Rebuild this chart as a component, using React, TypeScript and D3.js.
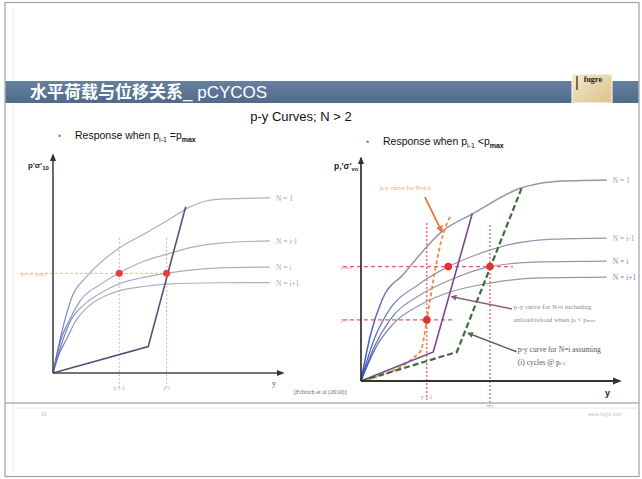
import React from "react";
import * as d3 from "d3";

type P = [number, number];

// ---------- left chart data (response when p_{i-1} = p_max) ----------
const leftN1: P[] = [[0,0],[3,15],[6,27.5],[8.3,35],[14,43.5],[20.5,50.5],[29,57.5],[40,64],[49.6,69.8],[58.3,75.5],[66,78.8],[72.6,79.8],[94.3,80.3]];
const leftNim1: P[] = [[0,0],[2.2,10.6],[4.3,17.9],[6.1,22],[11.7,33],[20.4,40.5],[29,46],[40,51.5],[49.6,54.5],[59.6,57.5],[72.6,59.6],[94.3,60.6]];
const leftNi: P[] = [[0,0],[2.2,8.3],[4.3,15.1],[7.4,23.4],[14.8,32.5],[20.4,36.5],[29,41],[40,44],[49.4,45.7],[72.6,48.2],[94.3,48.6]];
const leftNip1: P[] = [[0,0],[3,9.6],[5.7,15.1],[9.6,23.4],[16.1,31.2],[22.6,35.3],[29,37.8],[40,39.8],[49.6,40.8],[72.6,41.4],[94.3,41.5]];
const leftPurple: P[] = [[0,0],[41.4,12.1],[57.7,76.3]];
const leftYValues = [28.8, 49.4];
const leftYLabels = ["y i-1", "y i"];
const leftPmax = 45.7;
const leftCurveLabels = ["N = 1", "N = i-1", "N = i", "N = i+1"];

// ---------- right chart data (response when p_{i-1} < p_max) ----------
const rightN1: P[] = [[0,0],[3.5,19.9],[8.1,36.3],[16.5,48],[31.2,67],[43.4,75.2],[61.4,86.4],[74.2,89.4],[94.9,90.1]];
const rightNim1: P[] = [[0,0],[4.9,18.2],[10,30.2],[22.8,43.7],[33.7,51.3],[42.1,55.5],[54.9,60.5],[74.3,63.6],[94.9,64.1]];
const rightNi: P[] = [[0,0],[5.4,16],[11.2,27.4],[22.8,38.6],[34.4,45.3],[49.8,51.3],[69.1,53.4],[94.9,53.8]];
const rightNip1: P[] = [[0,0],[6.2,16],[12,25.1],[22.8,34.1],[34.4,39.9],[49.8,43.9],[69.1,46.2],[94.9,46.6]];
const rightOrange: P[] = [[0,0],[22.8,13],[24.4,20],[25.4,27.4],[31.8,66.2],[34.4,73.7]];
const rightPurple: P[] = [[0,0],[27.9,13],[43,75.2]];
const rightGreen: P[] = [[0,0],[37,13],[62,86.4]];
const rightYValues = [25.4, 49.8];
const rightPValues = [51.3, 27.4];
const rightDots: P[] = [[25.4,27.4],[33.7,51.3],[49.8,51.3]];
const rightCurveLabels = ["N = 1", "N = i-1", "N = i", "N = i+1"];

const W = 642, H = 479;

export default function App() {
  const xL = d3.scaleLinear().domain([0, 100]).range([53, 283]);
  const yL = d3.scaleLinear().domain([0, 100]).range([373, 155]);
  const xR = d3.scaleLinear().domain([0, 100]).range([361, 620]);
  const yR = d3.scaleLinear().domain([0, 100]).range([381, 158]);

  const smoothL = d3.line<P>().x(d => xL(d[0])).y(d => yL(d[1])).curve(d3.curveMonotoneX);
  const polyL = d3.line<P>().x(d => xL(d[0])).y(d => yL(d[1]));
  const smoothR = d3.line<P>().x(d => xR(d[0])).y(d => yR(d[1])).curve(d3.curveMonotoneX);
  const polyR = d3.line<P>().x(d => xR(d[0])).y(d => yR(d[1]));

  const leftCurves = [leftN1, leftNim1, leftNi, leftNip1];
  const rightCurves = [rightN1, rightNim1, rightNi, rightNip1];
  const serif = "'Liberation Serif', 'DejaVu Serif', serif";
  const sans = "'Liberation Sans', Arial, sans-serif";

  return (
    <svg width={W} height={H} style={{ position: "absolute", left: 0, top: 0, background: "#fff" }}>
      <defs>
        <linearGradient id="bar" x1="0" y1="0" x2="0" y2="1">
          <stop offset="0" stopColor="#6681a0" />
          <stop offset="1" stopColor="#506b8a" />
        </linearGradient>
        <linearGradient id="logo" x1="0" y1="0" x2="1" y2="1">
          <stop offset="0" stopColor="#f4e8c8" />
          <stop offset="1" stopColor="#dcc28c" />
        </linearGradient>
        <linearGradient id="gL" gradientUnits="userSpaceOnUse" x1={xL(0)} y1="0" x2={xL(14)} y2="0">
          <stop offset="0" stopColor="#5a6cc4" />
          <stop offset="1" stopColor="#aaaec8" />
        </linearGradient>
        <linearGradient id="gR" gradientUnits="userSpaceOnUse" x1={xR(0)} y1="0" x2={xR(18)} y2="0">
          <stop offset="0" stopColor="#3d50c0" />
          <stop offset="1" stopColor="#9296b0" />
        </linearGradient>
        <marker id="arrK" viewBox="0 0 10 10" refX="8" refY="5" markerWidth="5" markerHeight="5" orient="auto">
          <path d="M0,1 L10,5 L0,9 z" fill="#333" />
        </marker>
        <marker id="arrO" viewBox="0 0 10 10" refX="8" refY="5" markerWidth="4" markerHeight="4" orient="auto">
          <path d="M0,0 L10,5 L0,10 z" fill="#e8793a" />
        </marker>
        <marker id="arrM" viewBox="0 0 10 10" refX="8" refY="5" markerWidth="4" markerHeight="4" orient="auto">
          <path d="M0,0 L10,5 L0,10 z" fill="#8a6070" />
        </marker>
        <marker id="arrG" viewBox="0 0 10 10" refX="8" refY="5" markerWidth="4" markerHeight="4" orient="auto">
          <path d="M0,0 L10,5 L0,10 z" fill="#4d6a4d" />
        </marker>
      </defs>

      {/* slide frame */}
      <rect x={5} y={2.5} width={634} height={474} fill="none" stroke="#a0a0a0" strokeWidth={1.2} />
      <line x1={13} x2={13} y1={8} y2={472} stroke="#ececec" strokeWidth={1} />

      {/* title bar */}
      <rect x={5.5} y={81} width={633} height={22} fill="url(#bar)" />
      <text x={30} y={98} fill="#fff" fontSize={17} fontFamily="'Noto Sans CJK SC', sans-serif" fontWeight={700}>
        水平荷载与位移关系
        <tspan fontFamily={sans} fontWeight={400}>_ pCYCOS</tspan>
      </text>
      <rect x={572} y={74} width={40} height={29} fill="url(#logo)" stroke="#fff" strokeWidth={1} />
      <text x={593} y={82} textAnchor="middle" fontSize={8} fontWeight={700} fontFamily={serif} fill="#222">fugro</text>
      <line x1={577} x2={577} y1={76} y2={90} stroke="#222" strokeWidth={1.2} />

      {/* headings */}
      <text x={301} y={121} textAnchor="middle" fontSize={13} fontFamily={sans} fill="#111">p-y Curves; N &gt; 2</text>
      <text x={58} y={139} fontSize={9} fill="#888" fontFamily={sans}>•</text>
      <text x={75} y={139} fontSize={10.5} fontFamily={sans} fill="#111">
        Response when p<tspan fontSize={7} dy={2.5}>i-1</tspan><tspan dy={-2.5}> =p</tspan><tspan fontSize={7} dy={2.5} fontWeight={700}>max</tspan>
      </text>
      <text x={366} y={145} fontSize={9} fill="#888" fontFamily={sans}>•</text>
      <text x={383} y={145} fontSize={10.5} fontFamily={sans} fill="#111">
        Response when p<tspan fontSize={7} dy={2.5}>i-1</tspan><tspan dy={-2.5}> &lt;p</tspan><tspan fontSize={7} dy={2.5} fontWeight={700}>max</tspan>
      </text>

      {/* ================= LEFT CHART ================= */}
      <g>
        <line x1={20} x2={xL(leftYValues[1])} y1={yL(leftPmax)} y2={yL(leftPmax)} stroke="#f3b98a" strokeWidth={1} strokeDasharray="3,2" />
        {leftYValues.map((v, i) => (
          <line key={i} x1={xL(v)} x2={xL(v)} y1={yL(62)} y2={yL(-6.9)} stroke="#f0a0a0" strokeWidth={1} strokeDasharray="2,2" />
        ))}
        {leftCurves.map((c, i) => (
          <path key={i} d={smoothL(c) || ""} fill="none" stroke="url(#gL)" strokeWidth={1.2} />
        ))}
        <path d={polyL(leftPurple) || ""} fill="none" stroke="#5e4c78" strokeWidth={1.6} />
        {leftYValues.map((v, i) => (
          <circle key={i} cx={xL(v)} cy={yL(leftPmax)} r={3.5} fill="#ee3a3a" />
        ))}
        <line x1={xL(0)} x2={xL(0)} y1={yL(0)} y2={yL(100)} stroke="#444" strokeWidth={1.6} markerEnd="url(#arrK)" />
        <line x1={xL(0)} x2={xL(100)} y1={yL(0)} y2={yL(0)} stroke="#444" strokeWidth={1.6} markerEnd="url(#arrK)" />
        <text x={28} y={168} fontSize={8} fontWeight={700} fontFamily={sans} fill="#222">p'σ'<tspan fontSize={6} dy={1.5}>10</tspan></text>
        <text x={272} y={386} fontSize={8} fontFamily={serif} fill="#555">y</text>
        {leftCurves.map((c, i) => (
          <text key={i} x={xL(c[c.length - 1][0]) + 6} y={yL(c[c.length - 1][1]) + 3} fontSize={7.5} fontFamily={serif} fill="#a8a8b0">{leftCurveLabels[i]}</text>
        ))}
        {leftYValues.map((v, i) => (
          <text key={i} x={xL(v)} y={yL(-8)} textAnchor="middle" fontSize={6.5} fontFamily={serif} fill="#e6a0a0">{leftYLabels[i]}</text>
        ))}
        <text x={21} y={yL(leftPmax) + 2.5} fontSize={6} fontFamily={serif} fill="#f0b48a">p<tspan fontSize={4.5}>i-1</tspan> = p<tspan fontSize={4.5}>max</tspan></text>
        <text x={294} y={394} fontSize={6.2} fontFamily={serif} fill="#666">[Erbrich et al (2010)]</text>
      </g>

      {/* ================= RIGHT CHART ================= */}
      <g>
        {rightPValues.map((v, i) => (
          <line key={i} x1={343} x2={i === 0 ? 513 : 453} y1={yR(v)} y2={yR(v)} stroke="#e85a5a" strokeWidth={1.1} strokeDasharray="4,3" />
        ))}
        {rightYValues.map((v, i) => (
          <line key={i} x1={xR(v)} x2={xR(v)} y1={yR(i === 0 ? 70.9 : 70)} y2={yR(i === 0 ? -8.5 : -11.2)} stroke="#e85050" strokeWidth={1.2} strokeDasharray="2,2" />
        ))}
        {rightCurves.map((c, i) => (
          <path key={i} d={smoothR(c) || ""} fill="none" stroke="url(#gR)" strokeWidth={i === 0 ? 1.5 : 1.2} />
        ))}
        <path d={smoothR(rightOrange) || ""} fill="none" stroke="#f08a3c" strokeWidth={1.8} strokeDasharray="4,2.5" />
        <path d={polyR(rightPurple) || ""} fill="none" stroke="#7a4892" strokeWidth={1.6} />
        <path d={polyR(rightGreen) || ""} fill="none" stroke="#3f6b3f" strokeWidth={2.2} strokeDasharray="6,3" />
        {rightDots.map((d, i) => (
          <circle key={i} cx={xR(d[0])} cy={yR(d[1])} r={3.8} fill="#e63030" />
        ))}
        <line x1={xR(0)} x2={xR(0)} y1={yR(0)} y2={yR(100)} stroke="#222" strokeWidth={1.6} markerEnd="url(#arrK)" />
        <line x1={xR(0)} x2={xR(100)} y1={yR(0)} y2={yR(0)} stroke="#333" strokeWidth={1.8} markerEnd="url(#arrK)" />
        <text x={334} y={169} fontSize={8.5} fontWeight={700} fontFamily={sans} fill="#222">p,'σ'<tspan fontSize={6} dy={2}>vo</tspan></text>
        <text x={605} y={396} fontSize={9} fontWeight={700} fontFamily={sans} fill="#222">y</text>
        {rightCurves.map((c, i) => (
          <text key={i} x={xR(c[c.length - 1][0]) + 6} y={yR(c[c.length - 1][1]) + 3} fontSize={7.5} fontFamily={serif} fill={i >= 2 ? "#7484cc" : "#a0a0a8"}>{rightCurveLabels[i]}</text>
        ))}
        <text x={xR(rightYValues[0])} y={yR(-8)} textAnchor="middle" fontSize={6.5} fontFamily={serif} fill="#e89090">y i-1</text>
        <text x={xR(rightYValues[1])} y={yR(-12)} textAnchor="middle" fontSize={6.5} fontFamily={serif} fill="#e89090">y i</text>
        <text x={341} y={yR(rightPValues[0]) + 2.5} fontSize={6.5} fontFamily={serif} fill="#e88a8a">p<tspan fontSize={4.5}>max</tspan></text>
        <text x={341} y={yR(rightPValues[1]) + 2.5} fontSize={6.5} fontFamily={serif} fill="#e88a8a">p<tspan fontSize={4.5}>i-1</tspan></text>

        <text x={xR(7.3)} y={yR(85.5)} fontSize={6.5} fontFamily={serif} fill="#f0a070">p-y curve for N=i-1</text>
        <line x1={xR(24.7)} y1={yR(82.5)} x2={xR(31.2)} y2={yR(67)} stroke="#e8793a" strokeWidth={1.8} markerEnd="url(#arrO)" />

        <line x1={xR(58.3)} y1={yR(32.3)} x2={xR(35)} y2={yR(37.8)} stroke="#8a6070" strokeWidth={1.5} markerEnd="url(#arrM)" />
        <text x={xR(59)} y={yR(32.5)} fontSize={7} fontFamily={serif} fill="#888">p-y curve for N=i including</text>
        <text x={xR(59)} y={yR(26.5)} fontSize={7} fontFamily={serif} fill="#888">unload/reload when p<tspan fontSize={5}>i</tspan> &lt; p<tspan fontSize={5}>max</tspan></text>

        <line x1={xR(60.1)} y1={yR(13.1)} x2={xR(41.4)} y2={yR(21.4)} stroke="#4d6a4d" strokeWidth={1.5} markerEnd="url(#arrG)" />
        <text x={xR(60.5)} y={yR(13)} fontSize={7.5} fontFamily={serif} fill="#555">p-y curve for N=i assuming</text>
        <text x={xR(60.5)} y={yR(7.2)} fontSize={7.5} fontFamily={serif} fill="#555">(i) cycles @ p<tspan fontSize={5}>i-1</tspan></text>
      </g>

      {/* footer */}
      <line x1={5} x2={639} y1={403} y2={403} stroke="#b0b0b0" strokeWidth={1.5} />
      <line x1={13} x2={639} y1={408} y2={408} stroke="#e6e6e6" strokeWidth={1} />
      <text x={41} y={416} fontSize={5} fill="#bbb" fontFamily={sans}>16</text>
      <text x={588} y={416} fontSize={5} fill="#c4c4c4" fontFamily={sans}>www.fugro.com</text>
    </svg>
  );
}
